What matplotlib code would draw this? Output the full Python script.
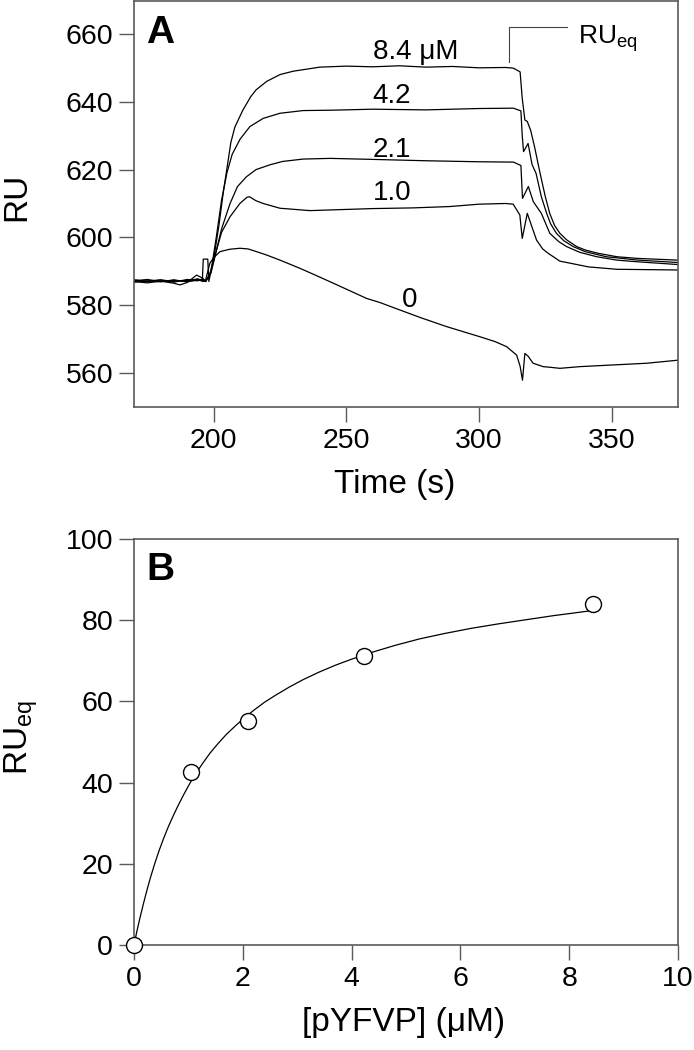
import matplotlib
matplotlib.use("Agg")
import matplotlib.pyplot as plt

plt.rcParams["font.family"] = ["Liberation Sans", "DejaVu Sans"]
plt.rcParams["mathtext.fontset"] = "custom"
plt.rcParams["mathtext.rm"] = "Liberation Sans"

# panel A: sensorgrams (time s, RU)
t_84 = [170, 175, 180, 185, 190, 194, 196, 197, 198.5, 200, 202, 203.6, 205.5, 206.5, 208, 211,
        214, 216, 220, 225, 230, 235, 240, 250, 260, 270, 280, 290, 300, 310, 313, 315.5, 316.3,
        317.3, 318.2, 319.5, 321, 323, 325, 326.7, 328.5, 330.5, 333, 336.8, 340, 345, 352, 360, 375]
ru_84 = [587.2, 587.6, 587.0, 587.3, 587.1, 587.8, 587.2, 587.0, 589.0, 593.5, 603.5, 613.0, 622.8, 628.0, 632.5, 637.5,
         641.5, 643.5, 646.0, 648.0, 649.0, 649.6, 650.2, 650.5, 650.3, 650.6, 650.2, 650.4, 650.0, 650.1, 649.9, 648.8, 641.0,
         634.6, 634.2, 631.5, 626.5, 619.0, 612.0, 607.0, 603.5, 601.2, 599.3, 597.3, 596.3, 595.3, 594.3, 593.8, 593.3]

t_42 = [170, 175, 180, 185, 190, 194, 196, 197, 199, 201, 203, 205, 207, 210, 213.7, 218.7, 225, 233.8,
        244, 260, 280, 300, 313, 315.8, 316.3, 316.8, 318.5, 320, 321.5, 323.5, 325.5, 327, 329.2, 332,
        335.5, 340, 348, 360, 375]
ru_42 = [586.8, 587.2, 586.9, 587.5, 586.9, 587.4, 587.6, 587.0, 590.0, 600.0, 611.0, 619.0, 624.5, 629.0, 632.7, 635.1, 636.6, 637.4,
         637.5, 637.8, 637.6, 638.0, 638.1, 637.3, 630.0, 625.3, 627.7, 621.5, 618.9, 612.0, 607.1, 604.0, 601.2, 599.0,
         597.3, 595.8, 594.3, 593.3, 592.6]

t_21 = [170, 175, 180, 185, 190, 194, 196, 197, 199, 201, 203, 206.2, 209, 212.4, 216, 221.2, 226, 233.8,
        243.9, 260, 280, 300, 313, 315.8, 316.4, 318.6, 320.5, 323.5, 326.7, 330, 333, 338, 344.4, 352, 360, 375]
ru_21 = [587.5, 587.0, 587.4, 586.8, 587.6, 587.2, 587.9, 587.0, 589.5, 596.0, 602.5, 610.0, 615.0, 617.9, 620.0, 621.4, 622.4, 623.1,
         623.3, 623.0, 622.6, 622.3, 622.2, 621.2, 611.5, 615.0, 610.5, 607.1, 601.2, 598.8, 597.3, 595.6, 594.3, 593.3, 592.8, 592.0]

t_10 = [170, 175, 180, 185, 187.3, 190, 193.6, 195.8, 196.1, 197.8, 198.2, 199, 201, 203, 206.2, 209.9,
        212.5, 213.5, 216, 218.7, 225, 236.3, 244, 260, 275, 289, 300, 310, 312.9, 315.4, 316.3, 318.2,
        320, 321.7, 324, 326.1, 330.5, 335, 341.3, 352, 375]
ru_10 = [587.0, 586.6, 587.1, 586.5, 586.0, 586.7, 588.9, 588.0, 593.6, 593.6, 587.0, 590.0, 596.0, 601.5, 606.1, 610.0,
         611.8, 612.0, 610.8, 610.0, 608.6, 607.9, 608.1, 608.5, 608.7, 609.1, 609.8, 610.0, 609.8, 606.6, 599.7, 607.1,
         603.0, 599.2, 596.6, 595.3, 593.0, 592.3, 591.3, 590.6, 590.4]

t_0 = [170, 175, 180, 185, 190, 194, 196, 197, 198.6, 200, 202.4, 206, 209.9, 213, 216.2, 220, 225, 232.5,
       238, 245.1, 257.7, 262.7, 270.2, 277.8, 287.8, 300.4, 306, 310.4, 314.2, 315.5, 316.4, 317.3, 318.5,
       320.4, 324.2, 327, 330.5, 338, 350.6, 363.2, 375]
ru_0 = [587.4, 587.1, 587.5, 587.0, 587.3, 587.6, 587.0, 587.5, 592.4, 594.0, 595.8, 596.5, 596.8, 596.6, 595.8, 594.8, 593.3, 590.9,
        589.0, 586.5, 582.0, 580.8, 578.6, 576.4, 573.7, 570.7, 569.3, 567.8, 565.3, 562.0, 557.9, 565.8, 565.0,
        562.9, 561.9, 561.7, 561.4, 561.9, 562.4, 562.9, 563.8]

curve_labels = ["8.4 μM", "4.2", "2.1", "1.0", "0"]
label_t = [260, 260, 260, 260, 270.9]
label_ru = [652.5, 639.7, 623.8, 610.9, 579.6]

# panel B: equilibrium response vs concentration
conc = [0, 1.05, 2.1, 4.22, 8.44]
ru_eq = [0, 42.6, 55.2, 71.2, 84.0]

# fitted curve
fit_x = [0, 0.05, 0.11, 0.17, 0.23, 0.3, 0.38, 0.46, 0.54, 0.63, 0.72, 0.82, 0.92, 1.03, 1.15, 1.27,
         1.4, 1.55, 1.7, 1.85, 2.0, 2.2, 2.4, 2.6, 2.85, 3.1, 3.4, 3.7, 4.0, 4.4, 4.8, 5.25, 5.7,
         6.2, 6.7, 7.2, 7.7, 8.1, 8.44]
fit_y = [0, 3.2, 6.7, 10.0, 13.1, 16.5, 20.0, 23.2, 26.1, 29.1, 31.8, 34.6, 37.2, 39.9, 42.5, 44.9,
         47.3, 49.7, 51.9, 53.8, 55.6, 57.8, 59.8, 61.5, 63.5, 65.3, 67.2, 68.9, 70.4, 72.2, 73.8, 75.4, 76.7,
         78.0, 79.1, 80.1, 81.1, 81.8, 82.4]

spine_col = "#5a5a5a"

fig = plt.figure(figsize=(6.94, 10.5), dpi=100)
axA = fig.add_axes([134 / 694, 1 - 407 / 1050, 544 / 694, 406 / 1050])
axB = fig.add_axes([134 / 694, 1 - 945 / 1050, 544 / 694, 406 / 1050])

for ax in (axA, axB):
    for s in ax.spines.values():
        s.set_color(spine_col)
        s.set_linewidth(1.2)
    ax.tick_params(direction="out", length=11, width=1.0, color=spine_col,
                   labelsize=20.5, pad=4, top=False, right=False)

# --- A ---
for t, r in [(t_84, ru_84), (t_42, ru_42), (t_21, ru_21), (t_10, ru_10), (t_0, ru_0)]:
    axA.plot(t, r, color="black", lw=0.9)

for lab, x, y in zip(curve_labels, label_t, label_ru):
    axA.text(x, y, lab, fontsize=20, ha="left", va="baseline")

axA.plot([333.0, 311.4, 311.4], [662.0, 662.0, 651.7], color="#444444", lw=0.8)
axA.text(337.4, 657.2, r"RU$_{\mathregular{eq}}$", fontsize=19, ha="left", va="baseline")

axA.set_xlim(170, 375)
axA.set_ylim(550, 669.7)
axA.set_xticks([200, 250, 300, 350])
axA.set_yticks([560, 580, 600, 620, 640, 660])
axA.text(0.023, 0.897, "A", transform=axA.transAxes, fontsize=28, fontweight="bold",
         ha="left", va="baseline")

fig.text(1 / 694, 1 - 197 / 1050, "RU", rotation=90, fontsize=24, ha="left", va="center")
fig.text(395 / 694, 1 - 493 / 1050, "Time (s)", fontsize=24, ha="center", va="baseline")

# --- B ---
axB.plot(fit_x, fit_y, color="black", lw=0.9, zorder=2)
axB.plot(conc, ru_eq, "o", ms=11.5, mfc="white", mec="black", mew=1.0, zorder=3, clip_on=False)

axB.set_xlim(0, 10)
axB.set_ylim(0, 100)
axB.set_xticks([0, 2, 4, 6, 8, 10])
axB.set_yticks([0, 20, 40, 60, 80, 100])
axB.text(0.023, 0.899, "B", transform=axB.transAxes, fontsize=28, fontweight="bold",
         ha="left", va="baseline")

fig.text(2 / 694, 1 - 738 / 1050, r"RU$_{\mathregular{eq}}$", rotation=90, fontsize=24,
         ha="left", va="center")
fig.text(404 / 694, 1 - 1031 / 1050, "[pYFVP] (μM)", fontsize=24, ha="center", va="baseline")

fig.savefig("out.png", dpi=100)
